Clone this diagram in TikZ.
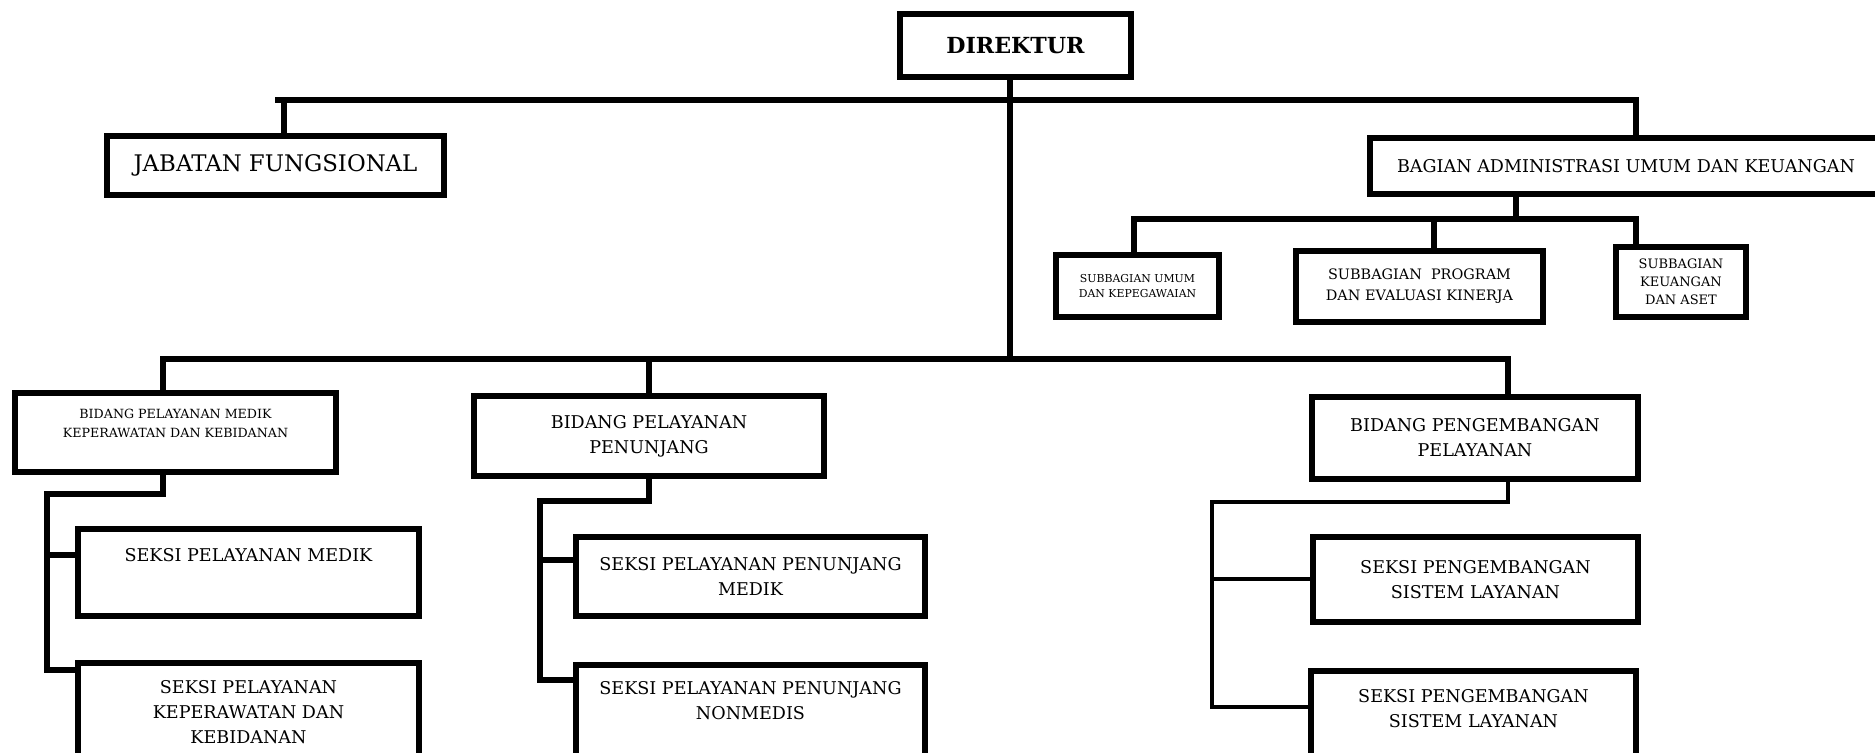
\documentclass[tikz,border=0pt]{standalone}
\usepackage{fontspec}
\setmainfont{DejaVu Serif}
\tikzstyle{kotak}=[draw, line width=1.7pt, align=center, inner sep=0pt, font=\hrf{5}{7.1}]
\tikzstyle{garis}=[line width=1.7pt]
\tikzstyle{tipis}=[line width=1.2pt]
\newcommand{\hrf}[2]{\fontsize{#1}{#2}\selectfont}

\begin{document}
\begin{tikzpicture}
\useasboundingbox (0,0) rectangle (18.75,-7.53);
\clip (0,0) rectangle (18.75,-7.53);
% pimpinan
\node[kotak, minimum width=2.31cm, minimum height=0.63cm, font=\hrf{6.3}{8}\bfseries] (direktur) at (10.155,-0.455) {DIREKTUR};
\node[kotak, minimum width=3.37cm, minimum height=0.59cm, font=\hrf{6.5}{8}] (jabfung) at (2.755,-1.655) {JABATAN FUNGSIONAL};
\node[kotak, minimum width=5.12cm, minimum height=0.56cm, font=\hrf{5}{7}] (bagian) at (16.26,-1.66) {BAGIAN ADMINISTRASI UMUM DAN KEUANGAN};
% subbagian
\node[kotak, minimum width=1.63cm, minimum height=0.62cm, font=\hrf{3.1}{4.3}] (subumum) at (11.375,-2.86) {SUBBAGIAN UMUM\\DAN KEPEGAWAIAN};
\node[kotak, minimum width=2.47cm, minimum height=0.71cm, font=\hrf{4.1}{6}] (subprog) at (14.195,-2.865) {SUBBAGIAN\ \ PROGRAM\\DAN EVALUASI KINERJA};
\node[kotak, minimum width=1.30cm, minimum height=0.70cm, font=\hrf{3.7}{5.1}] (subkeu) at (16.81,-2.82) {SUBBAGIAN\\KEUANGAN\\DAN ASET};
% bidang
\node[kotak, minimum width=3.21cm, minimum height=0.79cm, font=\hrf{3.6}{5.4}] (bpm) at (1.755,-4.325) {BIDANG PELAYANAN MEDIK\\KEPERAWATAN DAN KEBIDANAN\\\mbox{}};
\node[kotak, minimum width=3.50cm, minimum height=0.80cm] (bpp) at (6.49,-4.36) {BIDANG PELAYANAN\\PENUNJANG};
\node[kotak, minimum width=3.26cm, minimum height=0.82cm] (bpg) at (14.75,-4.38) {BIDANG PENGEMBANGAN\\PELAYANAN};
% seksi
\node[kotak, minimum width=3.41cm, minimum height=0.87cm] (sm) at (2.485,-5.725) {SEKSI PELAYANAN MEDIK\\[2.8pt]\mbox{}};
\node[kotak, minimum width=3.41cm, minimum height=0.98cm] (sk) at (2.485,-7.12) {SEKSI PELAYANAN\\KEPERAWATAN DAN\\KEBIDANAN};
\node[kotak, minimum width=3.49cm, minimum height=0.79cm] (spm) at (7.505,-5.765) {SEKSI PELAYANAN PENUNJANG\\MEDIK};
\node[kotak, minimum width=3.49cm, minimum height=0.95cm] (spn) at (7.505,-7.125) {SEKSI PELAYANAN PENUNJANG\\NONMEDIS\\\mbox{}};
\node[kotak, minimum width=3.25cm, minimum height=0.85cm] (sg1) at (14.755,-5.795) {SEKSI PENGEMBANGAN\\SISTEM LAYANAN};
\node[kotak, minimum width=3.25cm, minimum height=0.99cm] (sg2) at (14.735,-7.205) {SEKSI PENGEMBANGAN\\SISTEM LAYANAN\\\mbox{}};

% garis atas
\coordinate (kiri1) at (2.75,-1.00);
\coordinate (kanan1) at (16.36,-1.00);
\coordinate (jf1) at (2.84,-1.00);
\draw[garis] (kiri1) -- (kanan1) -- (bagian.north -| kanan1);
\draw[garis] (jf1) -- (jabfung.north -| jf1);
\coordinate (pusat) at (10.10,-3.59);
\draw[garis] (direktur.south -| pusat) -- (pusat);
% subbagian
\coordinate (kiri3) at (11.34,-2.19);
\coordinate (kanan3) at (16.36,-2.19);
\coordinate (tengah3) at (15.16,-2.19);
\coordinate (prog3) at (14.34,-2.19);
\draw[garis] (subumum.north -| kiri3) -- (kiri3) -- (kanan3) -- (subkeu.north -| kanan3);
\draw[garis] (bagian.south -| tengah3) -- (tengah3);
\draw[garis] (prog3) -- (subprog.north -| prog3);
% bidang
\coordinate (kiri2) at (1.63,-3.59);
\coordinate (kanan2) at (15.08,-3.59);
\draw[garis] (bpm.north -| kiri2) -- (kiri2) -- (kanan2) -- (bpg.north -| kanan2);
\draw[garis] (bpp.north) -- (bpp.north |- kiri2);
% seksi
\coordinate (m1) at (0.47,-4.94);
\coordinate (m2) at (0.47,-5.55);
\coordinate (m3) at (0.47,-6.70);
\draw[garis] (bpm.south -| kiri2) |- (m1) -- (m3) -- (m3 -| sk.west);
\draw[garis] (m2) -- (m2 -| sm.west);
\coordinate (p1) at (5.40,-5.01);
\coordinate (p2) at (5.40,-5.60);
\coordinate (p3) at (5.40,-6.80);
\draw[garis] (bpp.south) |- (p1) -- (p3) -- (p3 -| spn.west);
\draw[garis] (p2) -- (p2 -| spm.west);
\coordinate (g1) at (12.12,-5.02);
\coordinate (g2) at (12.12,-5.79);
\coordinate (g3) at (12.12,-7.07);
\draw[tipis] (bpg.south -| kanan2) |- (g1) -- (g3) -- (g3 -| sg2.west);
\draw[tipis] (g2) -- (g2 -| sg1.west);
\end{tikzpicture}
\end{document}
